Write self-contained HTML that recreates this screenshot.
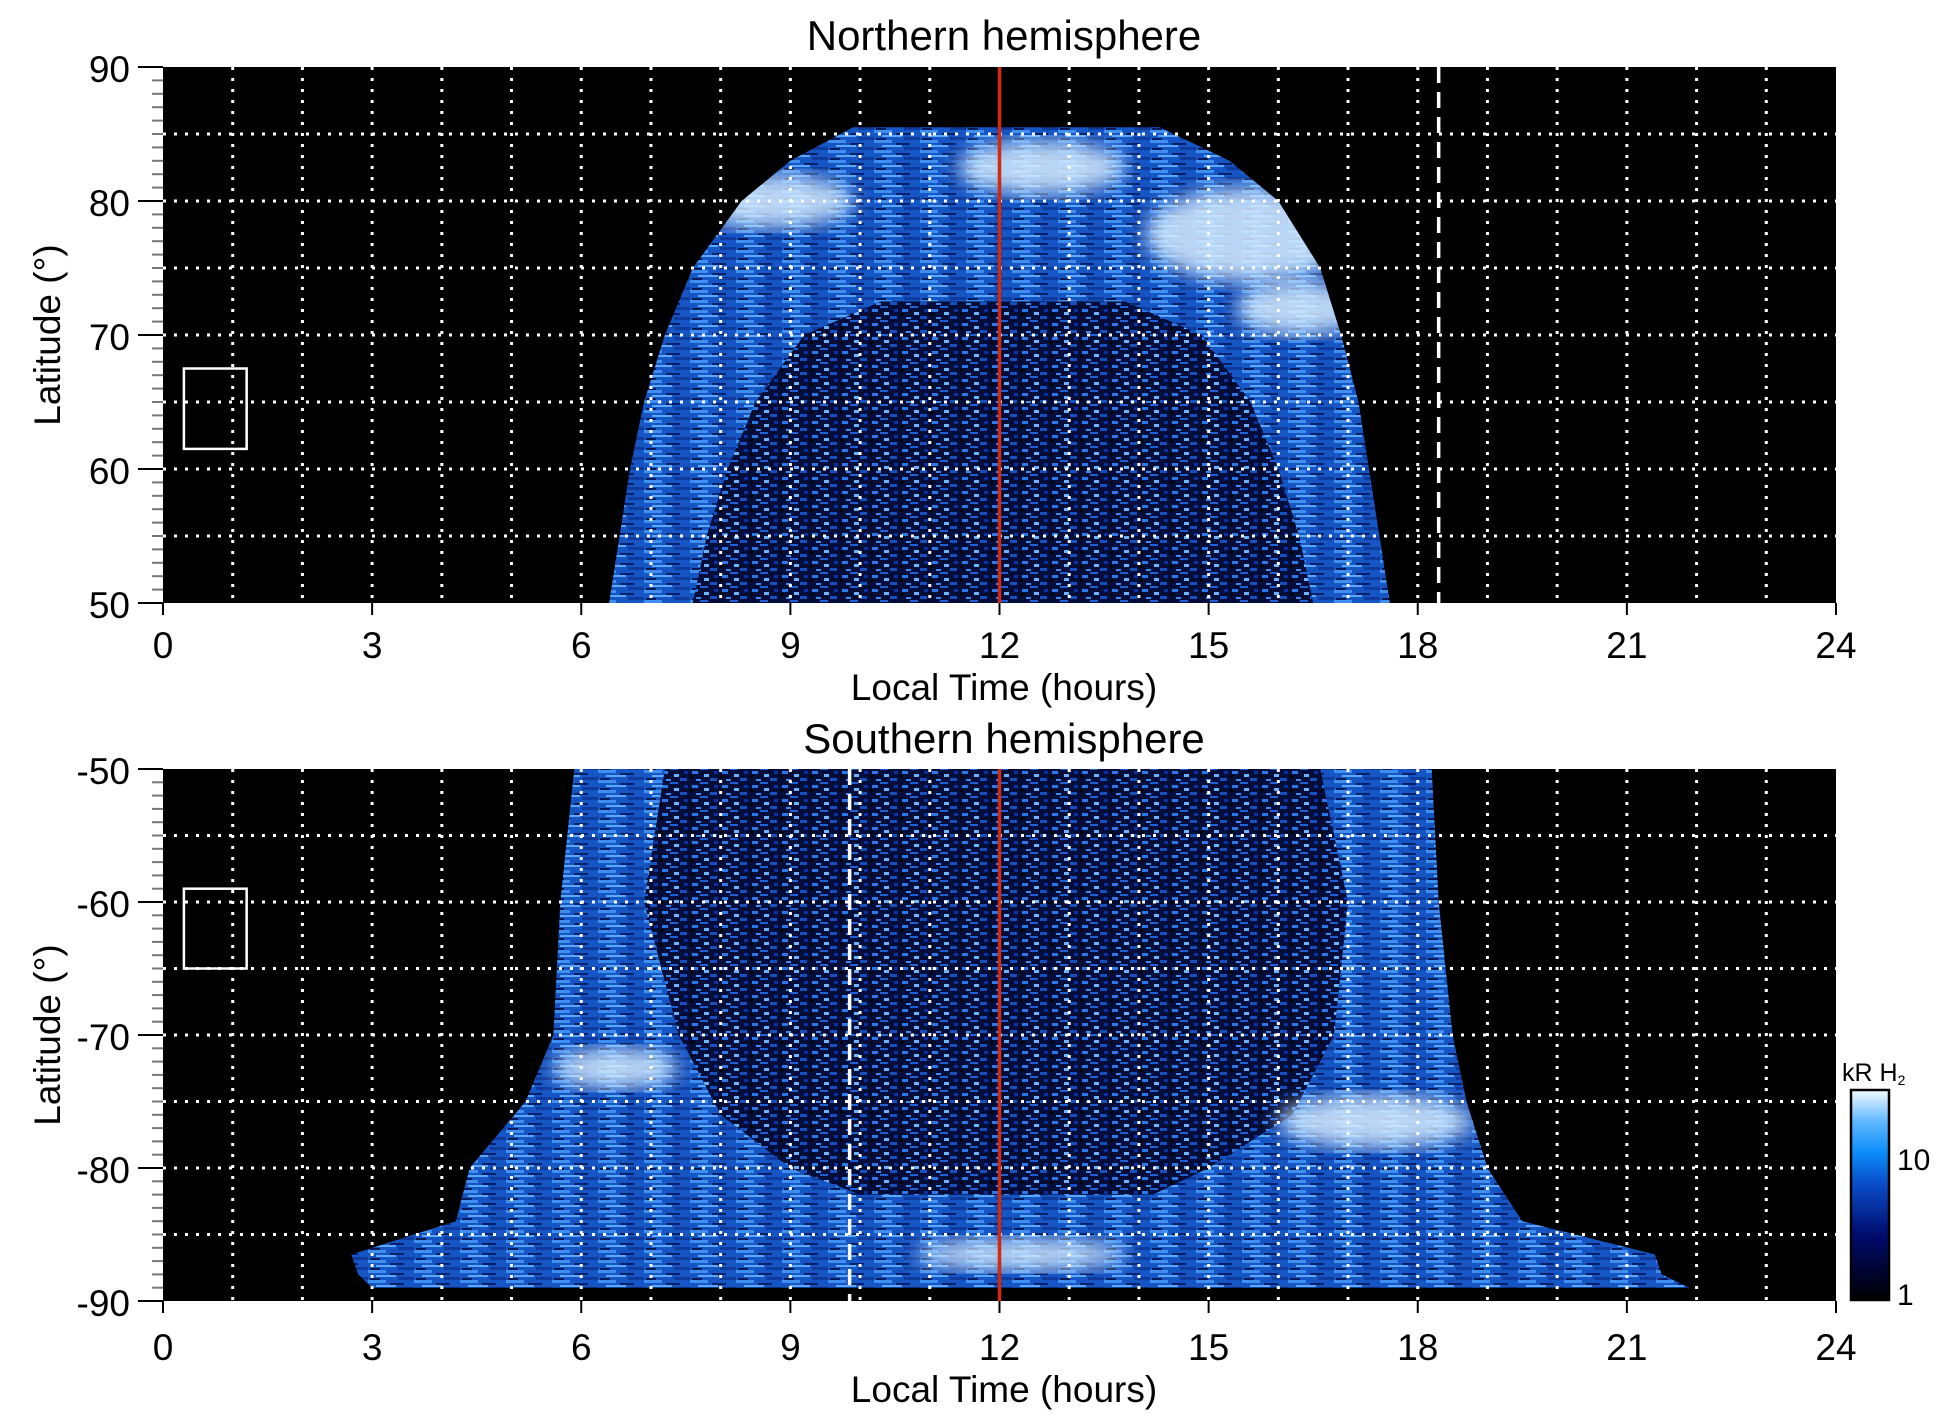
<!DOCTYPE html>
<html><head><meta charset="utf-8">
<style>
html,body{margin:0;padding:0;background:#fff;}
svg{display:block;font-family:"Liberation Sans",sans-serif;}
</style></head>
<body>
<svg id="chart" width="1950" height="1423" viewBox="0 0 1950 1423" xmlns="http://www.w3.org/2000/svg">
<defs>
<pattern id="speckOuter" width="46" height="10" patternUnits="userSpaceOnUse">
<rect width="46" height="10" fill="#1655c4"/>
<rect x="0" y="0" width="18" height="3" fill="#3f8ff0"/>
<rect x="22" y="3" width="14" height="2" fill="#061f6a"/>
<rect x="8" y="5" width="20" height="2" fill="#5aa8ff"/>
<rect x="30" y="7" width="16" height="3" fill="#0f3c9c"/>
<rect x="2" y="8" width="10" height="2" fill="#041a5a"/>
</pattern>
<pattern id="speckInner" width="30" height="14" patternUnits="userSpaceOnUse">
<rect width="30" height="14" fill="#030d3a"/>
<rect x="2" y="1" width="6" height="3" fill="#2a78e8"/>
<rect x="14" y="4" width="5" height="3" fill="#6ab4ff"/>
<rect x="20" y="8" width="7" height="3" fill="#1450c0"/>
<rect x="6" y="9" width="5" height="2" fill="#3a8cf0"/>
<rect x="24" y="1" width="4" height="3" fill="#0a30a0"/>
<rect x="10" y="12" width="8" height="2" fill="#1e60d8"/>
<rect x="0" y="5" width="3" height="3" fill="#000"/>
</pattern>
<filter id="blur"><feGaussianBlur stdDeviation="10"/></filter>
<linearGradient id="cbar" x1="0" y1="1" x2="0" y2="0">
<stop offset="0" stop-color="#000000"/>
<stop offset="0.3" stop-color="#000a6a"/>
<stop offset="0.55" stop-color="#0a4cc8"/>
<stop offset="0.7" stop-color="#0a8cf8"/>
<stop offset="0.85" stop-color="#60b8ff"/>
<stop offset="1" stop-color="#f4fbff"/>
</linearGradient>
</defs>
<g id="root"></g>
</svg>
<script>
// ---- data ----
const hourTicks = [0,3,6,9,12,15,18,21,24];
const northLatTicks = [90,80,70,60,50];
const southLatTicks = [-50,-60,-70,-80,-90];
// outer auroral region boundaries (lat, LT left, LT right)
const northOuterLat   = [50, 55, 60, 65, 70, 75, 80, 83, 85.5];
const northOuterLeft  = [6.4, 6.55, 6.7, 6.9, 7.2, 7.6, 8.3, 9.0, 9.9];
const northOuterRight = [17.6, 17.45, 17.3, 17.15, 16.9, 16.6, 16.0, 15.3, 14.3];
const northInnerLat   = [50, 55, 60, 65, 70, 72.5];
const northInnerLeft  = [7.6, 7.8, 8.1, 8.5, 9.2, 10.3];
const northInnerRight = [16.5, 16.3, 16.0, 15.6, 14.9, 13.8];
const southOuterLat   = [-50, -60, -70, -75, -80, -84, -86.5, -88, -89];
const southOuterLeft  = [5.9, 5.7, 5.6, 5.2, 4.4, 4.2, 2.7, 2.8, 3.0];
const southOuterRight = [18.2, 18.3, 18.5, 18.7, 19.0, 19.5, 21.4, 21.5, 21.9];
const southInnerLat   = [-50, -60, -70, -76, -80, -82];
const southInnerLeft  = [7.2, 6.9, 7.4, 8.0, 9.0, 10.0];
const southInnerRight = [16.6, 17.0, 16.8, 16.2, 15.0, 14.2];
// bright spots [LT, lat, rx(hours), ry(deg)]
const northBright = [[15.6,77.5,1.5,3.5],[16.3,72,0.9,2],[8.7,80,1.2,2],[12.6,82.5,1.2,2]];
const southBright = [[6.5,-72.5,0.9,1.5],[17.4,-76.5,1.4,2],[12.3,-86.5,1.5,1.2]];

const NS='http://www.w3.org/2000/svg';
const root=document.getElementById('root');
const X0=163, X1=1836;
function xs(lt){return X0+lt*(X1-X0)/24;}
function yN(lat){return 67+(90-lat)*13.4;}
function yS(lat){return 769+(-50-lat)*13.3;}
function mk(tag,attrs,parent){const e=document.createElementNS(NS,tag);for(const k in attrs)e.setAttribute(k,attrs[k]);(parent||root).appendChild(e);return e;}

function poly(lats,lefts,rights,ys){
  let pts=[];
  for(let i=0;i<lats.length;i++)pts.push(xs(lefts[i]).toFixed(1)+','+ys(lats[i]).toFixed(1));
  for(let i=lats.length-1;i>=0;i--)pts.push(xs(rights[i]).toFixed(1)+','+ys(lats[i]).toFixed(1));
  return pts.join(' ');
}

function panel(name,ys,latTicks,latMin,latMax,outer,inner,bright,dashLT,boxLat,title,titleY,xlabY){
  const top=ys(latMax), bot=ys(latMin);
  const g=mk('g',{});
  
  
  const bg=mk('rect',{x:X0,y:top,width:X1-X0,height:bot-top,fill:'#000'},g);
  
  
  const o=mk('polygon',{points:poly(outer[0],outer[1],outer[2],ys),fill:'url(#speckOuter)'},g);
  
  
  const inn=mk('polygon',{points:poly(inner[0],inner[1],inner[2],ys),fill:'url(#speckInner)'},g);
  
  
  const cp=mk('clipPath',{id:'clip'+name},g);
  mk('polygon',{points:poly(outer[0],outer[1],outer[2],ys)},cp);
  const bg2=mk('g',{'clip-path':'url(#clip'+name+')'},g);
  bright.forEach(b=>{
    const e=mk('ellipse',{cx:xs(b[0]),cy:ys(b[1]),rx:b[2]*(X1-X0)/24,ry:Math.abs(ys(b[1]+b[3])-ys(b[1])),fill:'#d8eeff',opacity:0.85,filter:'url(#blur)'},bg2);
    
    
  });
  for(let h=1;h<24;h++){
    const l=mk('line',{x1:xs(h),x2:xs(h),y1:top,y2:bot,stroke:'#fff','stroke-width':3,'stroke-dasharray':'3 8'},g);
    
    
  }
  for(let lat=latMin+5;lat<latMax;lat+=5){
    const l=mk('line',{x1:X0,x2:X1,y1:ys(lat),y2:ys(lat),stroke:'#fff','stroke-width':3,'stroke-dasharray':'3 8'},g);
    
    
  }
  const d=mk('line',{x1:xs(dashLT),x2:xs(dashLT),y1:top,y2:bot,stroke:'#fff','stroke-width':3.5,'stroke-dasharray':'16 9'},g);
  
  
  const r=mk('line',{x1:xs(12),x2:xs(12),y1:top,y2:bot,stroke:'#d02a10','stroke-width':3.5},g);
  
  
  const bx=mk('rect',{x:xs(0.3),y:ys(boxLat[0]),width:xs(1.2)-xs(0.3),height:ys(boxLat[1])-ys(boxLat[0]),fill:'none',stroke:'#fff','stroke-width':2.5},g);
  
  
  for(let lat=latMin;lat<=latMax;lat++){
    const major=(lat%10===0);
    const t=mk('line',{x1:major?138:152,x2:X0,y1:ys(lat),y2:ys(lat),stroke:major?'#000':'#777','stroke-width':2},g);
    
    
  }
  latTicks.forEach(v=>{
    const t=mk('text',{x:130,y:ys(v)+15,'text-anchor':'end','font-size':37},g);
    t.textContent=v;
    
    
  });
  hourTicks.forEach(h=>{
    const tk=mk('line',{x1:xs(h),x2:xs(h),y1:bot,y2:bot+12,stroke:'#000','stroke-width':2},g);
    
    
    const t=mk('text',{x:xs(h),y:xlabY,'text-anchor':'middle','font-size':37},g);
    t.textContent=h;
    
    
  });
  const xt=mk('text',{x:1004,y:xlabY+42,'text-anchor':'middle','font-size':37},g);
  xt.textContent='Local Time (hours)';
  
  
  const tt=mk('text',{x:1004,y:titleY,'text-anchor':'middle','font-size':42},g);
  tt.textContent=title;
  
  
  const yc=(top+bot)/2;
  const yt=mk('text',{x:60,y:yc,'text-anchor':'middle','font-size':37,transform:'rotate(-90 60 '+yc+')'},g);
  yt.textContent='Latitude (°)';
  
  
}

panel('north',yN,northLatTicks,50,90,[northOuterLat,northOuterLeft,northOuterRight],[northInnerLat,northInnerLeft,northInnerRight],northBright,18.3,[67.5,61.5],'Northern hemisphere',50,658);
panel('south',yS,southLatTicks,-90,-50,[southOuterLat,southOuterLeft,southOuterRight],[southInnerLat,southInnerLeft,southInnerRight],southBright,9.85,[-59,-65],'Southern hemisphere',753,1360);

const cb=mk('rect',{x:1851,y:1090,width:38,height:210,fill:'url(#cbar)',stroke:'#000','stroke-width':2.5});


const cbLabels=[['10',1170],['1',1305]];
cbLabels.forEach(l=>{
  const t=mk('text',{x:1897,y:l[1],'font-size':30});
  t.textContent=l[0];
  
  
});
const ct=mk('text',{x:1842,y:1081,'font-size':25});
ct.innerHTML='kR H<tspan font-size="14" dy="4">2</tspan>';


</script>
</body></html>
